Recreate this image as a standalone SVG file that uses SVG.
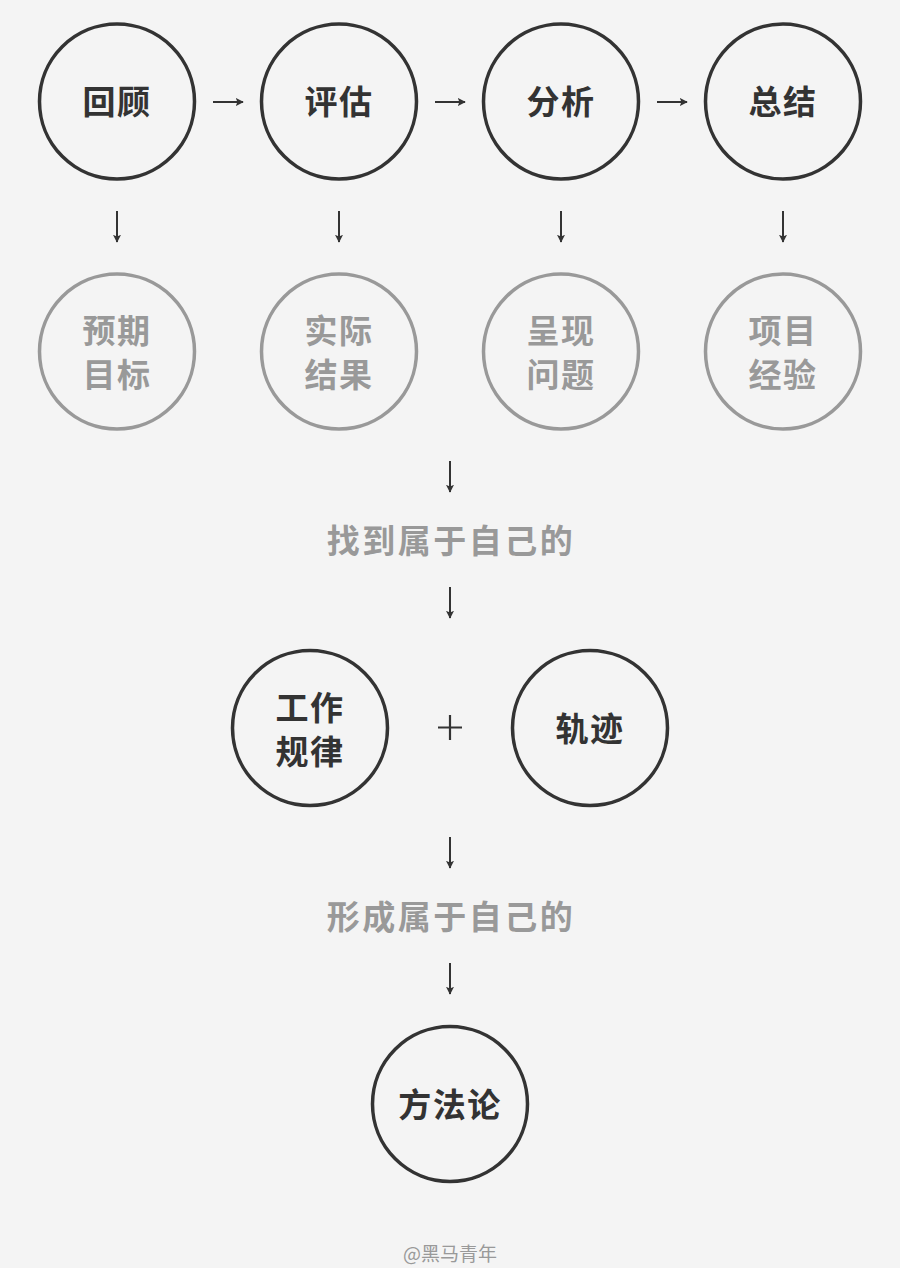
<svg xmlns="http://www.w3.org/2000/svg" width="900" height="1268" viewBox="0 0 900 1268">
<style>
.dk{fill:none;stroke:#333;stroke-width:3.5}
.gy{fill:none;stroke:#999;stroke-width:3.5}
.t{font-family:"Noto Sans CJK SC","Noto Sans",sans-serif;font-weight:700;font-size:33px;text-anchor:middle;letter-spacing:1.5px}
.td{fill:#333}
.tg{fill:#999}
.mid{font-family:"Noto Sans CJK SC","Noto Sans",sans-serif;font-weight:700;font-size:33px;text-anchor:middle;letter-spacing:2.5px;fill:#999}
.ar{stroke:#333;stroke-width:2;fill:none;marker-end:url(#ah)}
</style>
<defs>
<marker id="ah" viewBox="0 0 10 10" refX="9" refY="5" markerWidth="4" markerHeight="4" orient="auto" markerUnits="strokeWidth">
<path d="M0,0 L10,5 L0,10 L2,5 Z" fill="#333"/>
</marker>
</defs>
<rect width="900" height="1268" fill="#f4f4f4"/>
<g id="connectors">
<line class="ar" x1="213" y1="102" x2="243" y2="102"/>
<line class="ar" x1="435" y1="102" x2="465" y2="102"/>
<line class="ar" x1="657" y1="102" x2="687" y2="102"/>
<line class="ar" x1="117" y1="211" x2="117" y2="242"/>
<line class="ar" x1="339" y1="211" x2="339" y2="242"/>
<line class="ar" x1="561" y1="211" x2="561" y2="242"/>
<line class="ar" x1="783" y1="211" x2="783" y2="242"/>
<line class="ar" x1="450" y1="461" x2="450" y2="492"/>
<line class="ar" x1="450" y1="587" x2="450" y2="618"/>
<line class="ar" x1="450" y1="837" x2="450" y2="868"/>
<line class="ar" x1="450" y1="963" x2="450" y2="994"/>
</g>
<g id="n-huigu"><circle class="dk" cx="117" cy="101.5" r="77.5"/><text class="t td" x="117" y="114">回顾</text></g>
<g id="n-pinggu"><circle class="dk" cx="339" cy="101.5" r="77.5"/><text class="t td" x="339" y="114">评估</text></g>
<g id="n-fenxi"><circle class="dk" cx="561" cy="101.5" r="77.5"/><text class="t td" x="561" y="114">分析</text></g>
<g id="n-zongjie"><circle class="dk" cx="783" cy="101.5" r="77.5"/><text class="t td" x="783" y="114">总结</text></g>
<g id="n-yuqi"><circle class="gy" cx="117" cy="351.5" r="77.5"/><text class="t tg" x="117" y="343">预期</text><text class="t tg" x="117" y="387">目标</text></g>
<g id="n-shiji"><circle class="gy" cx="339" cy="351.5" r="77.5"/><text class="t tg" x="339" y="343">实际</text><text class="t tg" x="339" y="387">结果</text></g>
<g id="n-chengxian"><circle class="gy" cx="561" cy="351.5" r="77.5"/><text class="t tg" x="561" y="343">呈现</text><text class="t tg" x="561" y="387">问题</text></g>
<g id="n-xiangmu"><circle class="gy" cx="783" cy="351.5" r="77.5"/><text class="t tg" x="783" y="343">项目</text><text class="t tg" x="783" y="387">经验</text></g>
<g id="n-find"><text class="mid" x="451" y="553">找到属于自己的</text></g>
<g id="n-guilv"><circle class="dk" cx="310" cy="728" r="77.5"/><text class="t td" x="310" y="720">工作</text><text class="t td" x="310" y="764">规律</text></g>
<g id="n-plus"><path d="M450,715 V740 M438,727.5 H462" stroke="#333" stroke-width="2.2" fill="none"/></g>
<g id="n-guiji"><circle class="dk" cx="590" cy="728" r="77.5"/><text class="t td" x="590" y="741">轨迹</text></g>
<g id="n-form"><text class="mid" x="451" y="929">形成属于自己的</text></g>
<g id="n-fangfalun"><circle class="dk" cx="450" cy="1104" r="77.5"/><text class="t td" x="450" y="1117">方法论</text></g>
<g id="watermark"><text x="450" y="1261" font-family="'Noto Sans CJK SC','Noto Sans',sans-serif" font-size="19" fill="#999" text-anchor="middle">@黑马青年</text></g>
</svg>
